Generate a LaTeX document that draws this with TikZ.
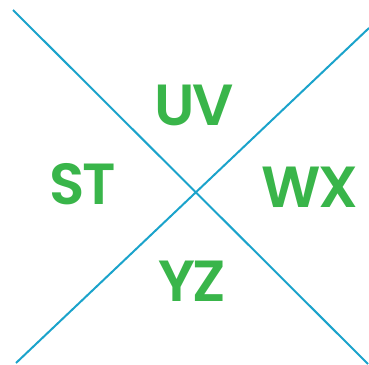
\documentclass[tikz,border=0pt]{standalone}
\usepackage{fontspec}
\newfontfamily\labelfont{Poppins}[BoldFont={Poppins SemiBold},LetterSpace=-4]
\definecolor{lineblue}{HTML}{1BA3CB}
\definecolor{labelgreen}{HTML}{39B54A}
\usetikzlibrary{calc}

\begin{document}
\begin{tikzpicture}[x=1pt,y=-1pt]
\useasboundingbox (0,0) rectangle (369,364);
% Ends of the two crossing lines
\coordinate (a) at (13,10);
\coordinate (b) at (368,364);
\coordinate (c) at (16,363);
\coordinate (d) at (369,28);
\draw[lineblue,line width=2pt] (a) -- (b);
\draw[lineblue,line width=2pt] (c) -- (d);
% Labels in the four quarters
\tikzset{quarter/.style={labelgreen,font=\labelfont\bfseries\fontsize{58}{58}\selectfont,inner sep=0pt}}
\node[quarter] (uv) at (194,105) {UV};
\node[quarter] (st) at (83,184) {ST};
\node[quarter] (wx) at (310,187) {WX};
\node[quarter] (yz) at (192,281) {YZ};
\end{tikzpicture}
\end{document}
